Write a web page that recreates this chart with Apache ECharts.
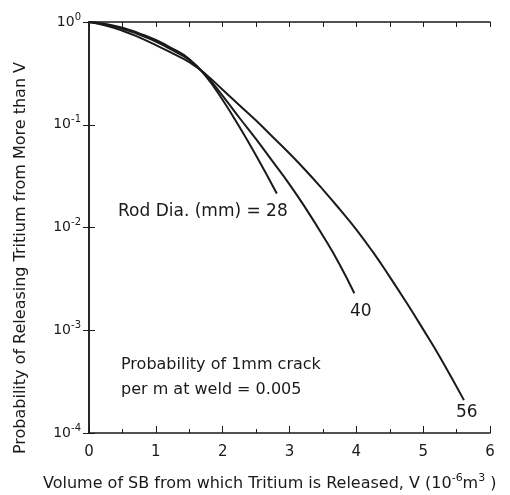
<!DOCTYPE html>
<html>
<head>
<meta charset="utf-8">
<script src="https://cdn.jsdelivr.net/npm/echarts@6/dist/echarts.min.js"></script>
<style>
html,body{margin:0;padding:0;background:#fff;}
#chart{width:510px;height:495px;}
</style>
</head>
<body>
<div id="chart"></div>
<script>
// Volume V (10^-6 m^3) and probability values
const x28 = [0, 0.25, 0.5, 0.75, 1.0, 1.25, 1.5, 1.75, 2.0, 2.25, 2.5, 2.81];
const y28 = [1, 0.955, 0.881, 0.776, 0.668, 0.550, 0.437, 0.295, 0.174, 0.0955, 0.0501, 0.0214];
const x40 = [0, 0.25, 0.5, 0.75, 1.0, 1.25, 1.5, 1.75, 2.0, 2.25, 2.5, 2.75, 3.0, 3.25, 3.5, 3.75, 3.97];
const y40 = [1, 0.940, 0.861, 0.755, 0.646, 0.531, 0.427, 0.302, 0.191, 0.117, 0.0724, 0.0437, 0.0263, 0.0151, 0.00832, 0.00437, 0.00229];
const x56 = [0, 0.25, 0.5, 0.75, 1.0, 1.25, 1.5, 1.75, 2.0, 2.25, 2.5, 2.75, 3.0, 3.25, 3.5, 3.75, 4.0, 4.25, 4.5, 4.75, 5.0, 5.25, 5.61];
const y56 = [1, 0.923, 0.822, 0.708, 0.596, 0.495, 0.407, 0.309, 0.219, 0.155, 0.110, 0.0759, 0.0525, 0.0355, 0.0234, 0.0151, 0.00955, 0.00575, 0.00331, 0.00186, 0.00102, 0.00055, 0.000209];
const xTicks = [0, 1, 2, 3, 4, 5, 6];
const yTickExp = {1: '0', 0.1: '-1', 0.01: '-2', 0.001: '-3', 0.0001: '-4'};

const zip = (xs, ys) => xs.map((x, i) => [x, ys[i]]);
const FONT = 'DejaVu Sans';
const INK = '#1a1a1a';

const chart = echarts.init(document.getElementById('chart'), null, {renderer: 'canvas'});

const lineSeries = (data) => ({
  type: 'line', data: data, smooth: 0.5, showSymbol: false, symbol: 'none',
  lineStyle: {color: INK, width: 2}, xAxisIndex: 0, yAxisIndex: 0, z: 3
});

const baseAxisLine = {show: true, lineStyle: {color: INK, width: 1.5}};

chart.setOption({
  animation: false,
  backgroundColor: '#fff',
  grid: {left: 89, right: 20, top: 22, bottom: 62, containLabel: false},
  xAxis: [
    {
      type: 'value', min: 0, max: 6, interval: 1, position: 'bottom',
      axisLine: baseAxisLine,
      axisTick: {show: true, inside: true, length: 7, lineStyle: {color: INK, width: 1}},
      minorTick: {show: true, splitNumber: 2, length: 4, lineStyle: {color: INK, width: 1}},
      splitLine: {show: false},
      axisLabel: {
        show: true, margin: 12, color: INK, fontFamily: FONT, fontSize: 15,
        formatter: v => xTicks.indexOf(v) >= 0 ? String(v) : ''
      }
    },
    {
      type: 'value', min: 0, max: 6, interval: 0.5, position: 'top',
      axisLine: baseAxisLine,
      axisTick: {show: true, inside: true, length: 5, lineStyle: {color: INK, width: 1}},
      splitLine: {show: false},
      axisLabel: {show: false}
    }
  ],
  yAxis: [
    {
      type: 'log', logBase: 10, min: 0.0001, max: 1, position: 'left',
      axisLine: baseAxisLine,
      axisTick: {show: true, inside: true, length: 6, lineStyle: {color: INK, width: 1}},
      splitLine: {show: false},
      axisLabel: {
        show: true, margin: 8, color: INK, fontFamily: FONT,
        formatter: v => {
          let key = Object.keys(yTickExp).find(k => Math.abs(Math.log10(+k) - Math.log10(v)) < 1e-6);
          return key !== undefined ? '{b|10}{s|' + yTickExp[key] + '}' : '';
        },
        rich: {
          b: {fontFamily: FONT, fontSize: 14, color: INK},
          s: {fontFamily: FONT, fontSize: 10, color: INK, padding: [0, 0, 10, 0]}
        }
      }
    },
    {
      type: 'log', logBase: 10, min: 0.0001, max: 1, position: 'right',
      axisLine: baseAxisLine,
      axisTick: {show: true, inside: true, length: 6, lineStyle: {color: INK, width: 1}},
      splitLine: {show: false},
      axisLabel: {show: false}
    }
  ],
  graphic: [
    {type: 'text', x: 21, y: 258, rotation: Math.PI / 2, style: {
      text: 'Probability of Releasing Tritium from More than V',
      font: '16px "DejaVu Sans"', fill: INK, align: 'center', verticalAlign: 'middle'
    }},
    {type: 'text', left: 43, top: 473, style: {
      text: '{n|Volume of SB from which Tritium is Released, V (10}{s|-6}{n|m}{s|3}{n| )}',
      rich: {
        n: {fontFamily: FONT, fontSize: 16, fill: INK},
        s: {fontFamily: FONT, fontSize: 11, fill: INK, padding: [0, 0, 10, 0]}
      }
    }},
    {type: 'text', left: 118, top: 203, style: {text: 'Rod Dia. (mm) = 28', font: '17px "DejaVu Sans"', fill: INK}},
    {type: 'text', left: 350, top: 303, style: {text: '40', font: '17px "DejaVu Sans"', fill: INK}},
    {type: 'text', left: 456, top: 404, style: {text: '56', font: '17px "DejaVu Sans"', fill: INK}},
    {type: 'text', left: 121, top: 357, style: {text: 'Probability of 1mm crack', font: '16px "DejaVu Sans"', fill: INK}},
    {type: 'text', left: 121, top: 382, style: {text: 'per m at weld = 0.005', font: '16px "DejaVu Sans"', fill: INK}}
  ],
  series: [
    lineSeries(zip(x28, y28)),
    lineSeries(zip(x40, y40)),
    lineSeries(zip(x56, y56))
  ]
});
</script>
</body>
</html>
